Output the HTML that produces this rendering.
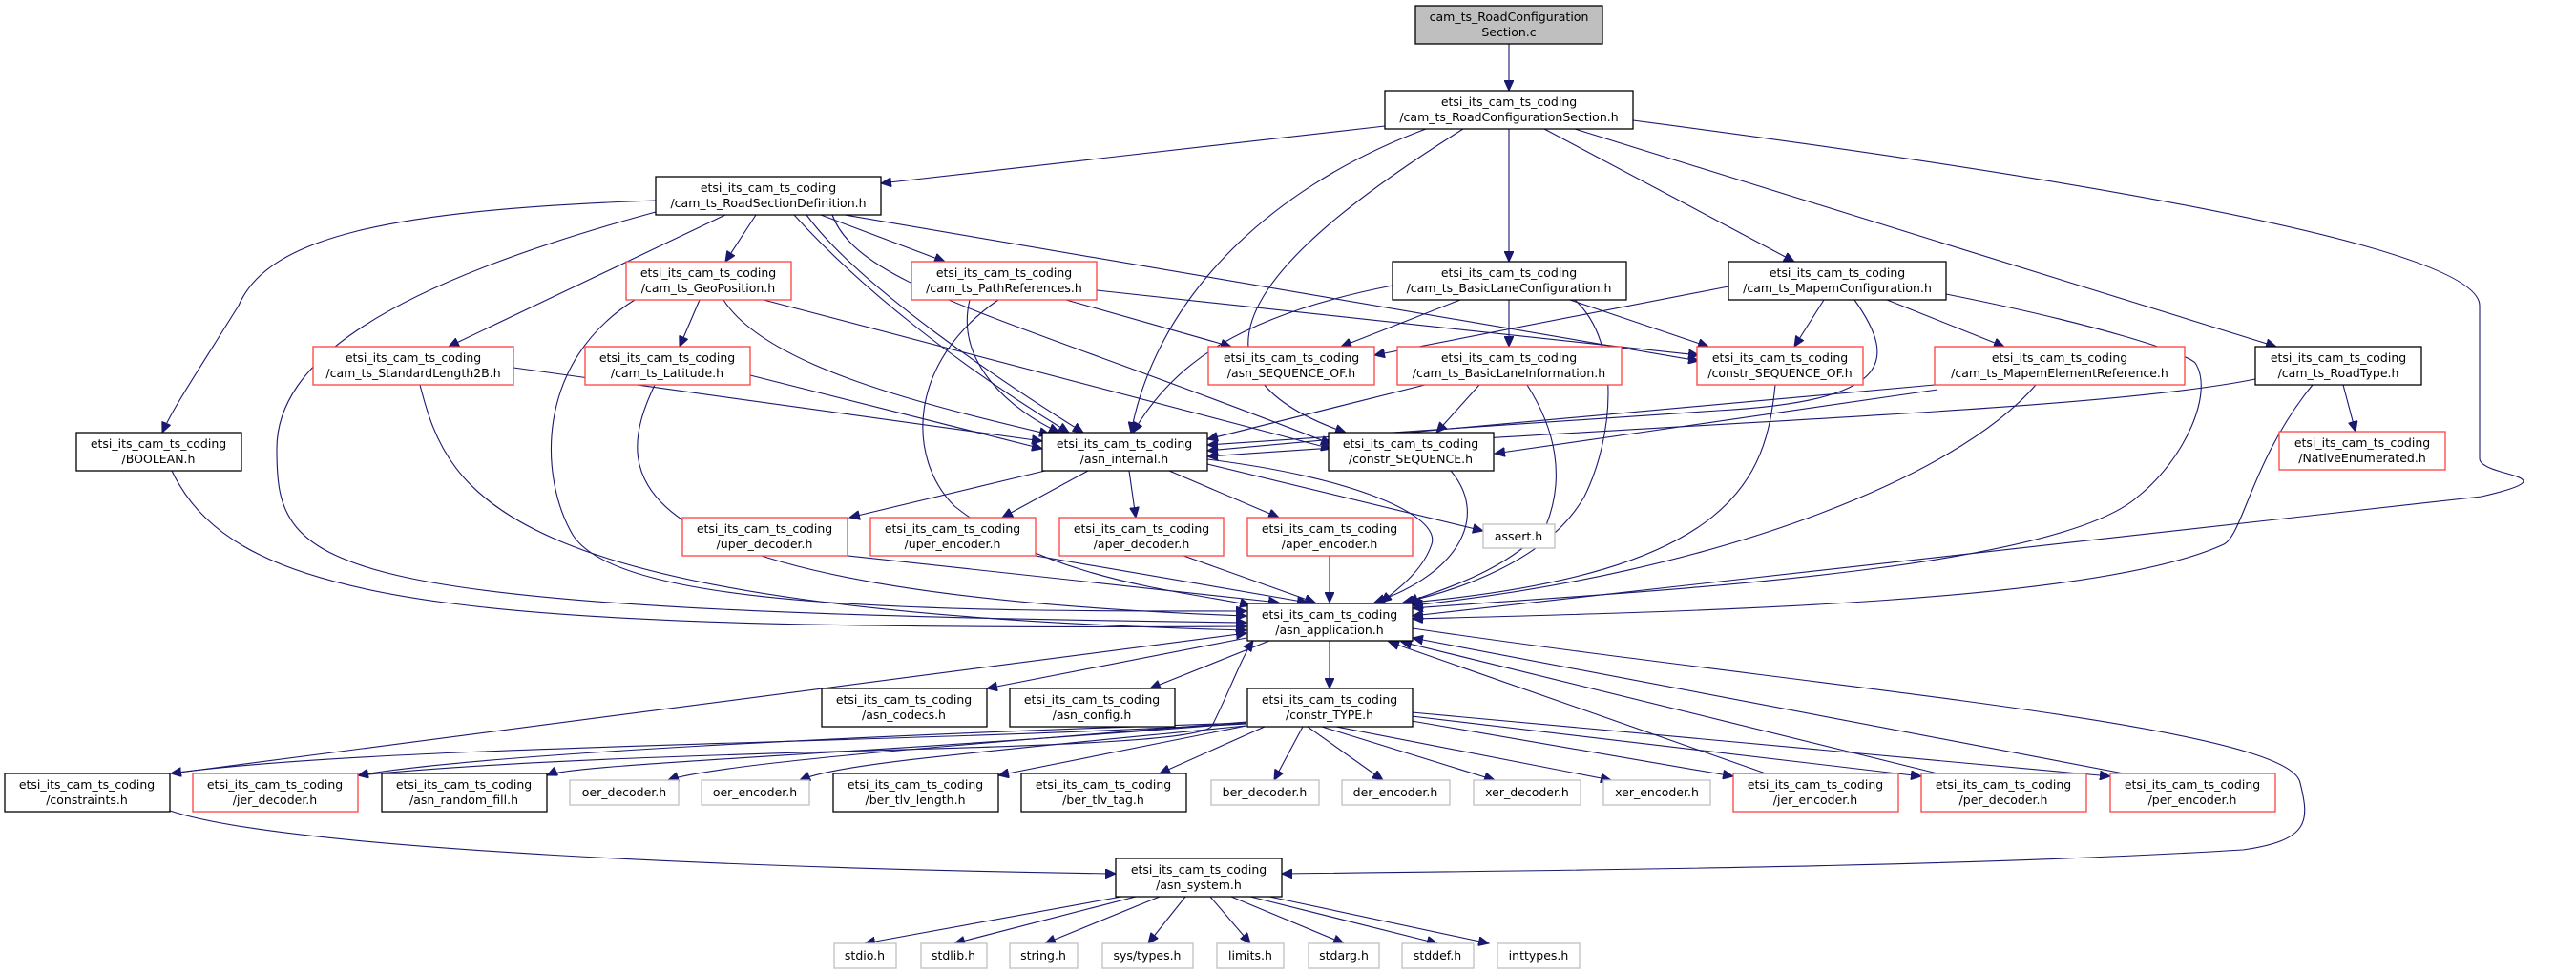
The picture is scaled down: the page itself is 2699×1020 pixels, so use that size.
<!DOCTYPE html>
<html><head><meta charset="utf-8"><style>
html,body{margin:0;padding:0;background:#fff;}
svg{display:block;}
text{font-family:"DejaVu Sans","Liberation Sans",sans-serif;font-size:12.5px;fill:#000;text-anchor:middle;}
.n{fill:#fff;stroke:#000;stroke-width:1.3;}
.r{fill:#fff;stroke:#ff4040;stroke-width:1.3;}
.g{fill:#fff;stroke:#bfbfbf;stroke-width:1.3;}
path{fill:none;stroke:#191970;stroke-width:1.1;marker-end:url(#a);}
</style></head><body>
<svg width="2699" height="1020" viewBox="0 0 2699 1020" xmlns="http://www.w3.org/2000/svg">
<defs><marker id="a" markerUnits="userSpaceOnUse" markerWidth="12" markerHeight="10" refX="11" refY="5" orient="auto"><polygon points="0,0 11,5 0,10" fill="#191970" stroke="#191970"/></marker></defs>

<!-- edges -->
<path d="M1581,46 L1581,95"/>
<path d="M1451,132 L923,192"/>
<path d="M1494,135 C1320,200 1210,320 1185,453"/>
<path d="M1533,135 C1350,250 1200,380 1410,453"/>
<path d="M1581,135 L1581,274"/>
<path d="M1618,135 L1880,274"/>
<path d="M1650,135 L2385,363"/>
<path d="M1711,126 C2200,190 2598,260 2598,320 L2598,480 C2598,500 2700,497 2600,520 L1480,645"/>

<path d="M687,210 C400,220 280,250 250,320 C200,400 180,430 170,453"/>
<path d="M687,222 C400,300 290,380 290,470 C290,600 320,640 1306,652"/>
<path d="M760,225 L470,363"/>
<path d="M792,225 L760,274"/>
<path d="M860,225 L990,274"/>
<path d="M832,225 C900,300 1000,380 1120,453"/>
<path d="M845,225 C900,300 1050,400 1135,453"/>
<path d="M872,225 C900,300 1050,330 1395,465"/>
<path d="M885,225 L1780,378"/>

<path d="M733,314 L712,363"/>
<path d="M758,314 C800,380 950,420 1100,455"/>
<path d="M800,314 L1395,470"/>
<path d="M665,314 C560,380 565,500 600,560 C650,640 1000,640 1306,640"/>
<path d="M1117,314 L1290,363"/>
<path d="M1149,304 L1780,372"/>
<path d="M1016,314 C1000,380 1060,430 1110,453"/>
<path d="M1046,314 C950,380 950,480 1000,530 C1100,610 1250,620 1310,634"/>
<path d="M538,385 L1092,462"/>
<path d="M440,403 C470,520 520,640 1306,660"/>
<path d="M786,393 L1092,470"/>
<path d="M686,403 C640,500 630,620 1306,645"/>
<path d="M180,493 C250,640 500,660 1306,656"/>

<path d="M1459,299 C1300,330 1230,380 1187,453"/>
<path d="M1530,314 L1405,363"/>
<path d="M1581,314 L1581,363"/>
<path d="M1645,314 L1790,363"/>
<path d="M1650,314 C1700,360 1690,460 1660,520 C1620,590 1520,620 1470,631"/>
<path d="M1811,300 L1440,372"/>
<path d="M1911,314 L1880,363"/>
<path d="M1977,314 L2100,363"/>
<path d="M1943,314 C1990,380 1980,420 1800,430 L1265,466"/>
<path d="M2039,308 C2200,340 2290,370 2300,380 C2320,410 2290,480 2240,520 C2150,600 1700,620 1480,637"/>
<path d="M1493,403 L1265,460"/>
<path d="M1550,403 L1505,453"/>
<path d="M1600,403 C1630,450 1640,500 1620,550 C1580,600 1500,620 1475,631"/>
<path d="M1860,403 C1850,500 1820,600 1478,631"/>
<path d="M2027,403 L1265,472"/>
<path d="M2030,408 L1566,475"/>
<path d="M2133,403 C2050,500 1800,600 1480,634"/>
<path d="M2455,403 L2468,452"/>
<path d="M2363,397 C2200,430 1800,440 1265,478"/>
<path d="M2423,403 C2360,480 2350,560 2330,570 C2200,630 1800,640 1480,648"/>
<path d="M1520,493 C1560,540 1530,600 1440,631"/>

<path d="M1095,493 L890,542"/>
<path d="M1140,493 L1050,542"/>
<path d="M1183,493 L1190,542"/>
<path d="M1225,493 L1340,542"/>
<path d="M1265,486 L1554,556"/>
<path d="M1265,481 C1420,500 1510,540 1500,570 C1490,600 1460,620 1447,631"/>
<path d="M888,582 L1340,631"/>
<path d="M1085,582 L1370,631"/>
<path d="M1240,582 L1378,631"/>
<path d="M1393,582 L1393,631"/>

<path d="M1306,668 L1034,721"/>
<path d="M1330,671 L1205,721"/>
<path d="M1393,671 L1393,721"/>
<path d="M1480,658 C1900,720 2400,760 2410,820 C2420,860 2420,880 2350,890 C2100,905 1800,910 1343,915"/>
<path d="M180,810 L1306,663"/>
<path d="M178,849 C300,890 800,910 1169,915"/>

<path d="M1306,758 C900,780 400,780 179,810"/>
<path d="M1306,757 C900,770 500,790 375,812"/>
<path d="M1306,757 C900,790 600,800 573,812"/>
<path d="M1306,756 C1000,780 750,800 700,817"/>
<path d="M1306,760 C1000,790 880,800 838,817"/>
<path d="M1306,760 L1046,812"/>
<path d="M1325,761 L1215,810"/>
<path d="M1365,761 L1335,817"/>
<path d="M1370,761 L1449,817"/>
<path d="M1385,761 L1566,817"/>
<path d="M1400,761 L1688,817"/>
<path d="M1479,755 L1816,813"/>
<path d="M1479,750 L2013,813"/>
<path d="M1479,746 L2211,813"/>
<path d="M375,812 C700,780 1250,790 1270,760 C1290,720 1300,690 1313,671"/>
<path d="M1850,810 L1455,672"/>
<path d="M2030,810 L1468,672"/>
<path d="M2225,810 L1480,668"/>

<path d="M1175,939 L906,988"/>
<path d="M1190,939 L1000,988"/>
<path d="M1215,939 L1095,988"/>
<path d="M1242,939 L1203,988"/>
<path d="M1268,939 L1310,988"/>
<path d="M1290,939 L1408,988"/>
<path d="M1310,939 L1506,988"/>
<path d="M1330,939 L1560,988"/>

<!-- nodes -->
<rect x="1483" y="6" width="196" height="40" fill="#bfbfbf" stroke="#000" stroke-width="1.3"/>
<text x="1581" y="22">cam_ts_RoadConfiguration</text><text x="1581" y="38">Section.c</text>

<rect class="n" x="1451" y="95" width="260" height="40"/><text x="1581" y="111">etsi_its_cam_ts_coding</text><text x="1581" y="127">/cam_ts_RoadConfigurationSection.h</text>
<rect class="n" x="687" y="185" width="236" height="40"/><text x="805" y="201">etsi_its_cam_ts_coding</text><text x="805" y="217">/cam_ts_RoadSectionDefinition.h</text>
<rect class="r" x="656" y="274" width="173" height="40"/><text x="742" y="290">etsi_its_cam_ts_coding</text><text x="742" y="306">/cam_ts_GeoPosition.h</text>
<rect class="r" x="955" y="274" width="194" height="40"/><text x="1052" y="290">etsi_its_cam_ts_coding</text><text x="1052" y="306">/cam_ts_PathReferences.h</text>
<rect class="n" x="1459" y="274" width="245" height="40"/><text x="1581" y="290">etsi_its_cam_ts_coding</text><text x="1581" y="306">/cam_ts_BasicLaneConfiguration.h</text>
<rect class="n" x="1811" y="274" width="228" height="40"/><text x="1925" y="290">etsi_its_cam_ts_coding</text><text x="1925" y="306">/cam_ts_MapemConfiguration.h</text>
<rect class="r" x="328" y="363" width="210" height="40"/><text x="433" y="379">etsi_its_cam_ts_coding</text><text x="433" y="395">/cam_ts_StandardLength2B.h</text>
<rect class="r" x="613" y="363" width="173" height="40"/><text x="699" y="379">etsi_its_cam_ts_coding</text><text x="699" y="395">/cam_ts_Latitude.h</text>
<rect class="r" x="1266" y="363" width="174" height="40"/><text x="1353" y="379">etsi_its_cam_ts_coding</text><text x="1353" y="395">/asn_SEQUENCE_OF.h</text>
<rect class="r" x="1464" y="363" width="235" height="40"/><text x="1581" y="379">etsi_its_cam_ts_coding</text><text x="1581" y="395">/cam_ts_BasicLaneInformation.h</text>
<rect class="r" x="1778" y="363" width="174" height="40"/><text x="1865" y="379">etsi_its_cam_ts_coding</text><text x="1865" y="395">/constr_SEQUENCE_OF.h</text>
<rect class="r" x="2027" y="363" width="262" height="40"/><text x="2158" y="379">etsi_its_cam_ts_coding</text><text x="2158" y="395">/cam_ts_MapemElementReference.h</text>
<rect class="n" x="2363" y="363" width="174" height="40"/><text x="2450" y="379">etsi_its_cam_ts_coding</text><text x="2450" y="395">/cam_ts_RoadType.h</text>
<rect class="n" x="80" y="453" width="173" height="40"/><text x="166" y="469">etsi_its_cam_ts_coding</text><text x="166" y="485">/BOOLEAN.h</text>
<rect class="n" x="1092" y="453" width="173" height="40"/><text x="1178" y="469">etsi_its_cam_ts_coding</text><text x="1178" y="485">/asn_internal.h</text>
<rect class="n" x="1392" y="453" width="173" height="40"/><text x="1478" y="469">etsi_its_cam_ts_coding</text><text x="1478" y="485">/constr_SEQUENCE.h</text>
<rect class="r" x="2388" y="452" width="174" height="40"/><text x="2475" y="468">etsi_its_cam_ts_coding</text><text x="2475" y="484">/NativeEnumerated.h</text>
<rect class="r" x="715" y="542" width="173" height="40"/><text x="801" y="558">etsi_its_cam_ts_coding</text><text x="801" y="574">/uper_decoder.h</text>
<rect class="r" x="912" y="542" width="173" height="40"/><text x="998" y="558">etsi_its_cam_ts_coding</text><text x="998" y="574">/uper_encoder.h</text>
<rect class="r" x="1110" y="542" width="172" height="40"/><text x="1196" y="558">etsi_its_cam_ts_coding</text><text x="1196" y="574">/aper_decoder.h</text>
<rect class="r" x="1307" y="542" width="173" height="40"/><text x="1393" y="558">etsi_its_cam_ts_coding</text><text x="1393" y="574">/aper_encoder.h</text>
<rect class="g" x="1554" y="549" width="75" height="25"/><text x="1591" y="566">assert.h</text>
<rect class="n" x="1307" y="632" width="173" height="39"/><text x="1393" y="648">etsi_its_cam_ts_coding</text><text x="1393" y="664">/asn_application.h</text>
<rect class="n" x="861" y="721" width="173" height="40"/><text x="947" y="737">etsi_its_cam_ts_coding</text><text x="947" y="753">/asn_codecs.h</text>
<rect class="n" x="1058" y="721" width="173" height="40"/><text x="1144" y="737">etsi_its_cam_ts_coding</text><text x="1144" y="753">/asn_config.h</text>
<rect class="n" x="1307" y="721" width="173" height="40"/><text x="1393" y="737">etsi_its_cam_ts_coding</text><text x="1393" y="753">/constr_TYPE.h</text>

<rect class="n" x="5" y="810" width="173" height="40"/><text x="91" y="826">etsi_its_cam_ts_coding</text><text x="91" y="842">/constraints.h</text>
<rect class="r" x="202" y="810" width="173" height="40"/><text x="288" y="826">etsi_its_cam_ts_coding</text><text x="288" y="842">/jer_decoder.h</text>
<rect class="n" x="400" y="810" width="173" height="40"/><text x="486" y="826">etsi_its_cam_ts_coding</text><text x="486" y="842">/asn_random_fill.h</text>
<rect class="g" x="597" y="817" width="114" height="26"/><text x="654" y="834">oer_decoder.h</text>
<rect class="g" x="735" y="817" width="113" height="26"/><text x="791" y="834">oer_encoder.h</text>
<rect class="n" x="873" y="810" width="173" height="40"/><text x="959" y="826">etsi_its_cam_ts_coding</text><text x="959" y="842">/ber_tlv_length.h</text>
<rect class="n" x="1070" y="810" width="173" height="40"/><text x="1156" y="826">etsi_its_cam_ts_coding</text><text x="1156" y="842">/ber_tlv_tag.h</text>
<rect class="g" x="1269" y="817" width="113" height="26"/><text x="1325" y="834">ber_decoder.h</text>
<rect class="g" x="1406" y="817" width="113" height="26"/><text x="1462" y="834">der_encoder.h</text>
<rect class="g" x="1544" y="817" width="112" height="26"/><text x="1600" y="834">xer_decoder.h</text>
<rect class="g" x="1680" y="817" width="112" height="26"/><text x="1736" y="834">xer_encoder.h</text>
<rect class="r" x="1816" y="810" width="173" height="40"/><text x="1902" y="826">etsi_its_cam_ts_coding</text><text x="1902" y="842">/jer_encoder.h</text>
<rect class="r" x="2013" y="810" width="173" height="40"/><text x="2099" y="826">etsi_its_cam_ts_coding</text><text x="2099" y="842">/per_decoder.h</text>
<rect class="r" x="2211" y="810" width="173" height="40"/><text x="2297" y="826">etsi_its_cam_ts_coding</text><text x="2297" y="842">/per_encoder.h</text>

<rect class="n" x="1169" y="899" width="174" height="40"/><text x="1256" y="915">etsi_its_cam_ts_coding</text><text x="1256" y="931">/asn_system.h</text>

<rect class="g" x="874" y="988" width="65" height="26"/><text x="906" y="1005">stdio.h</text>
<rect class="g" x="965" y="988" width="69" height="26"/><text x="999" y="1005">stdlib.h</text>
<rect class="g" x="1058" y="988" width="71" height="26"/><text x="1093" y="1005">string.h</text>
<rect class="g" x="1155" y="988" width="95" height="26"/><text x="1202" y="1005">sys/types.h</text>
<rect class="g" x="1275" y="988" width="70" height="26"/><text x="1310" y="1005">limits.h</text>
<rect class="g" x="1371" y="988" width="74" height="26"/><text x="1408" y="1005">stdarg.h</text>
<rect class="g" x="1469" y="988" width="75" height="26"/><text x="1506" y="1005">stddef.h</text>
<rect class="g" x="1569" y="988" width="86" height="26"/><text x="1612" y="1005">inttypes.h</text>
</svg>
</body></html>
